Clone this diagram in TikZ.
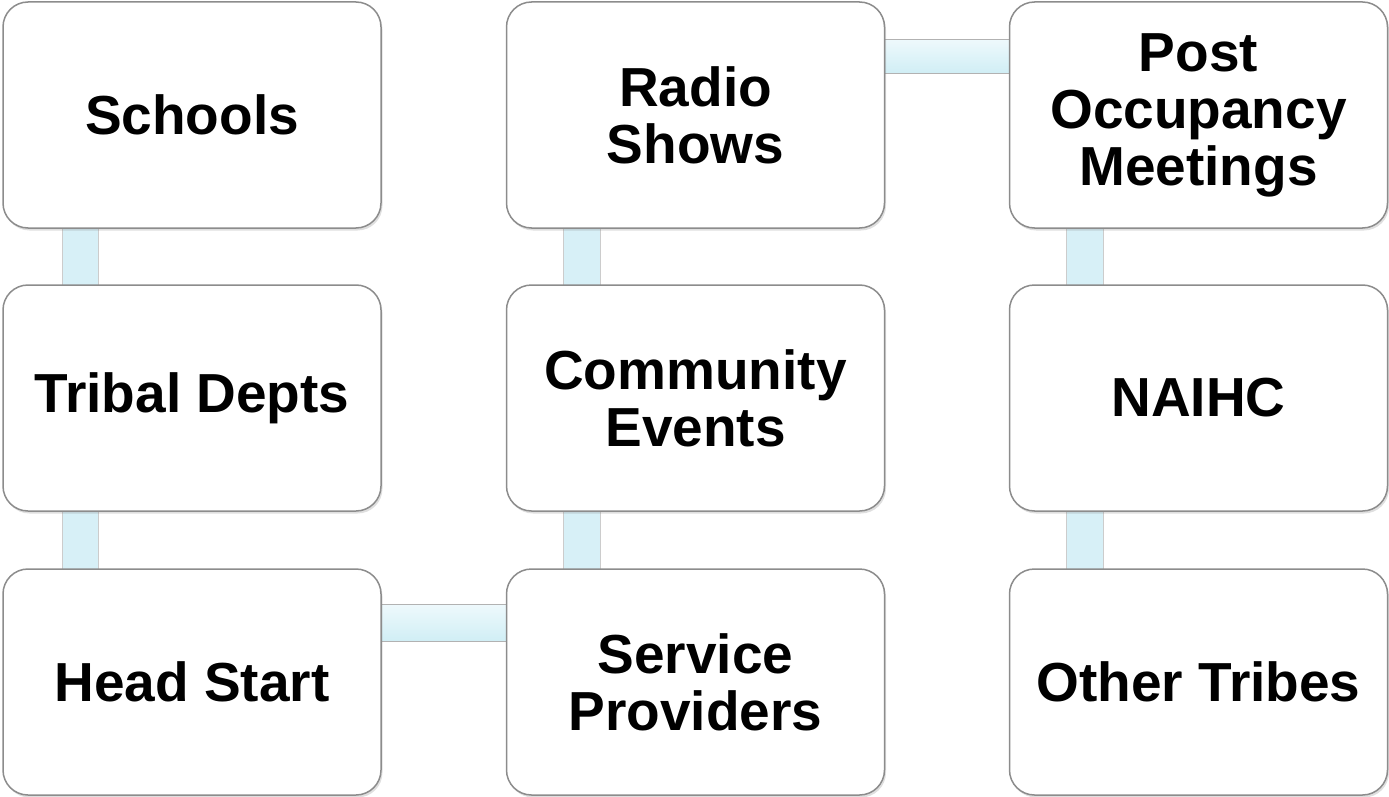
\documentclass[tikz,border=0pt]{standalone}
\usepackage{fontspec}
\setmainfont{Liberation Sans}
\usetikzlibrary{shadows,backgrounds,calc}
\definecolor{boxline}{HTML}{8C8C8C}
\definecolor{bartop}{HTML}{EEF9FC}
\definecolor{barbot}{HTML}{D0EEF5}
\definecolor{barv}{HTML}{D7F0F7}
\tikzset{
  card/.style={draw=boxline, line width=1.5pt, fill=white, rounded corners=25pt,
    minimum width=378pt, minimum height=226pt, inner sep=0pt, align=center,
    font=\fontsize{55}{57}\selectfont\bfseries,
    drop shadow={opacity=0.25, shadow xshift=1.5pt, shadow yshift=-2.5pt}},
  hbar/.style={top color=bartop, bottom color=barbot, draw=black!30, line width=0.8pt},
  vbar/.style={fill=barv, draw=black!20, line width=0.8pt}
}
\begin{document}
\begin{tikzpicture}[x=1pt,y=-1pt]
\useasboundingbox (0,0) rectangle (1389,797);
\node[card] (schools) at (192,115) {Schools};
\node[card] (tribal) at (192,398) {Tribal Depts};
\node[card] (head) at (192,682) {Head Start};
\node[card] (radio) at (695.5,115) {Radio\\Shows};
\node[card] (community) at (695.5,398) {Community\\Events};
\node[card] (service) at (695.5,682) {Service\\Providers};
\node[card] (post) at (1198.5,115) {Post\\Occupancy\\Meetings};
\node[card] (naihc) at (1198.5,398) {NAIHC};
\node[card] (other) at (1198.5,682) {Other Tribes};
\begin{scope}[on background layer]
\draw[vbar] ($(schools.south west)+(60,-5)$) rectangle ($(tribal.north west)+(96,5)$);
\draw[vbar] ($(tribal.south west)+(60,-5)$) rectangle ($(head.north west)+(96,5)$);
\draw[vbar] ($(radio.south west)+(58,-5)$) rectangle ($(community.north west)+(95,5)$);
\draw[vbar] ($(community.south west)+(58,-5)$) rectangle ($(service.north west)+(95,5)$);
\draw[vbar] ($(post.south west)+(58,-5)$) rectangle ($(naihc.north west)+(95,5)$);
\draw[vbar] ($(naihc.south west)+(58,-5)$) rectangle ($(other.north west)+(95,5)$);
\draw[hbar] ($(head.north east)+(-5,36)$) rectangle ($(service.north west)+(5,73)$);
\draw[hbar] ($(radio.north east)+(-5,38)$) rectangle ($(post.north west)+(5,72)$);
\end{scope}
\end{tikzpicture}
\end{document}
